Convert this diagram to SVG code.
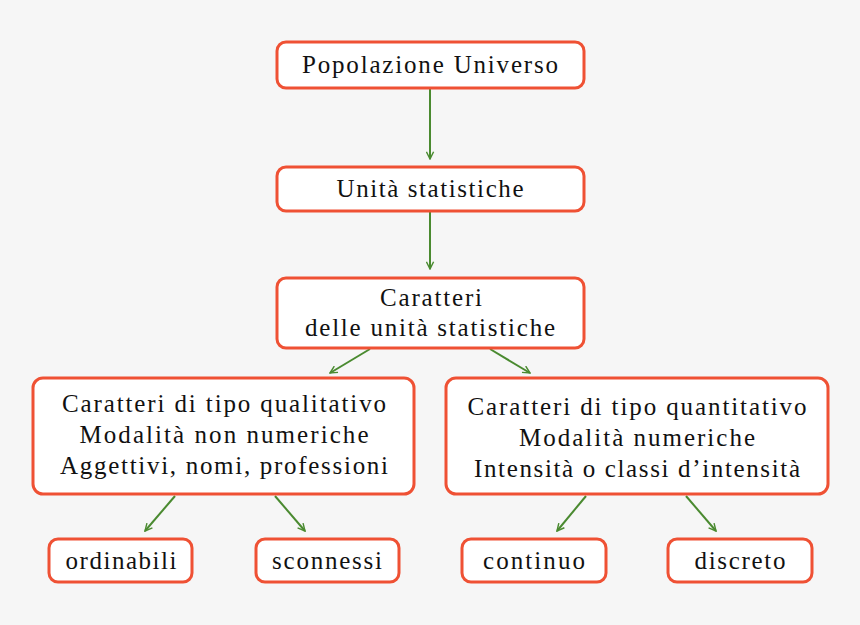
<svg xmlns="http://www.w3.org/2000/svg" width="860" height="625" viewBox="0 0 860 625">
<style>
.n rect{fill:#fff;stroke:#ef5134;stroke-width:3}
text{font-family:"Liberation Serif",serif;font-size:25px;fill:#111;text-anchor:middle}
.c line{stroke:#4a8a30;stroke-width:2;marker-end:url(#a)}
</style>
<defs><marker id="a" viewBox="0 0 10 10" refX="9" refY="5" markerWidth="9" markerHeight="9" markerUnits="userSpaceOnUse" orient="auto"><path d="M1,1 L9,5 L1,9" fill="none" stroke="#4a8a30" stroke-width="1.6"/></marker></defs>
<rect width="860" height="625" fill="#f6f6f6"/>
<g class="c">
<line x1="430" y1="89" x2="430" y2="159"/>
<line x1="430" y1="212" x2="430" y2="269"/>
<line x1="370" y1="349" x2="330" y2="373"/>
<line x1="490" y1="349" x2="530" y2="373"/>
<line x1="175" y1="496" x2="145" y2="531"/>
<line x1="275" y1="496" x2="305" y2="531"/>
<line x1="586" y1="496" x2="557" y2="531"/>
<line x1="686" y1="496" x2="716" y2="531"/>
</g>
<g id="pop" class="n"><rect x="277" y="42" width="307" height="46" rx="9"/><text x="430" y="73" textLength="256">Popolazione Universo</text></g>
<g id="unita" class="n"><rect x="277" y="167" width="307" height="44" rx="9"/><text x="430" y="197" textLength="187">Unità statistiche</text></g>
<g id="car" class="n"><rect x="277" y="278" width="307" height="70" rx="9"/><text x="431" y="306" textLength="102">Caratteri</text><text x="430" y="336" textLength="250">delle unità statistiche</text></g>
<g id="qual" class="n"><rect x="33" y="378" width="381" height="116" rx="10"/><text x="224" y="412" textLength="324">Caratteri di tipo qualitativo</text><text x="224" y="443" textLength="289">Modalità non numeriche</text><text x="224" y="474" textLength="328">Aggettivi, nomi, professioni</text></g>
<g id="quant" class="n"><rect x="446" y="378" width="382" height="116" rx="10"/><text x="637" y="415" textLength="339">Caratteri di tipo quantitativo</text><text x="637" y="446" textLength="236">Modalità numeriche</text><text x="637" y="477" textLength="326">Intensità o classi d’intensità</text></g>
<g id="ord" class="n"><rect x="49" y="539" width="143" height="43" rx="9"/><text x="121" y="569" textLength="111">ordinabili</text></g>
<g id="sco" class="n"><rect x="256" y="539" width="143" height="43" rx="9"/><text x="327" y="569" textLength="110">sconnessi</text></g>
<g id="con" class="n"><rect x="462" y="539" width="144" height="43" rx="9"/><text x="534" y="569" textLength="102">continuo</text></g>
<g id="dis" class="n"><rect x="668" y="539" width="144" height="43" rx="9"/><text x="740" y="569" textLength="91">discreto</text></g>
</svg>
